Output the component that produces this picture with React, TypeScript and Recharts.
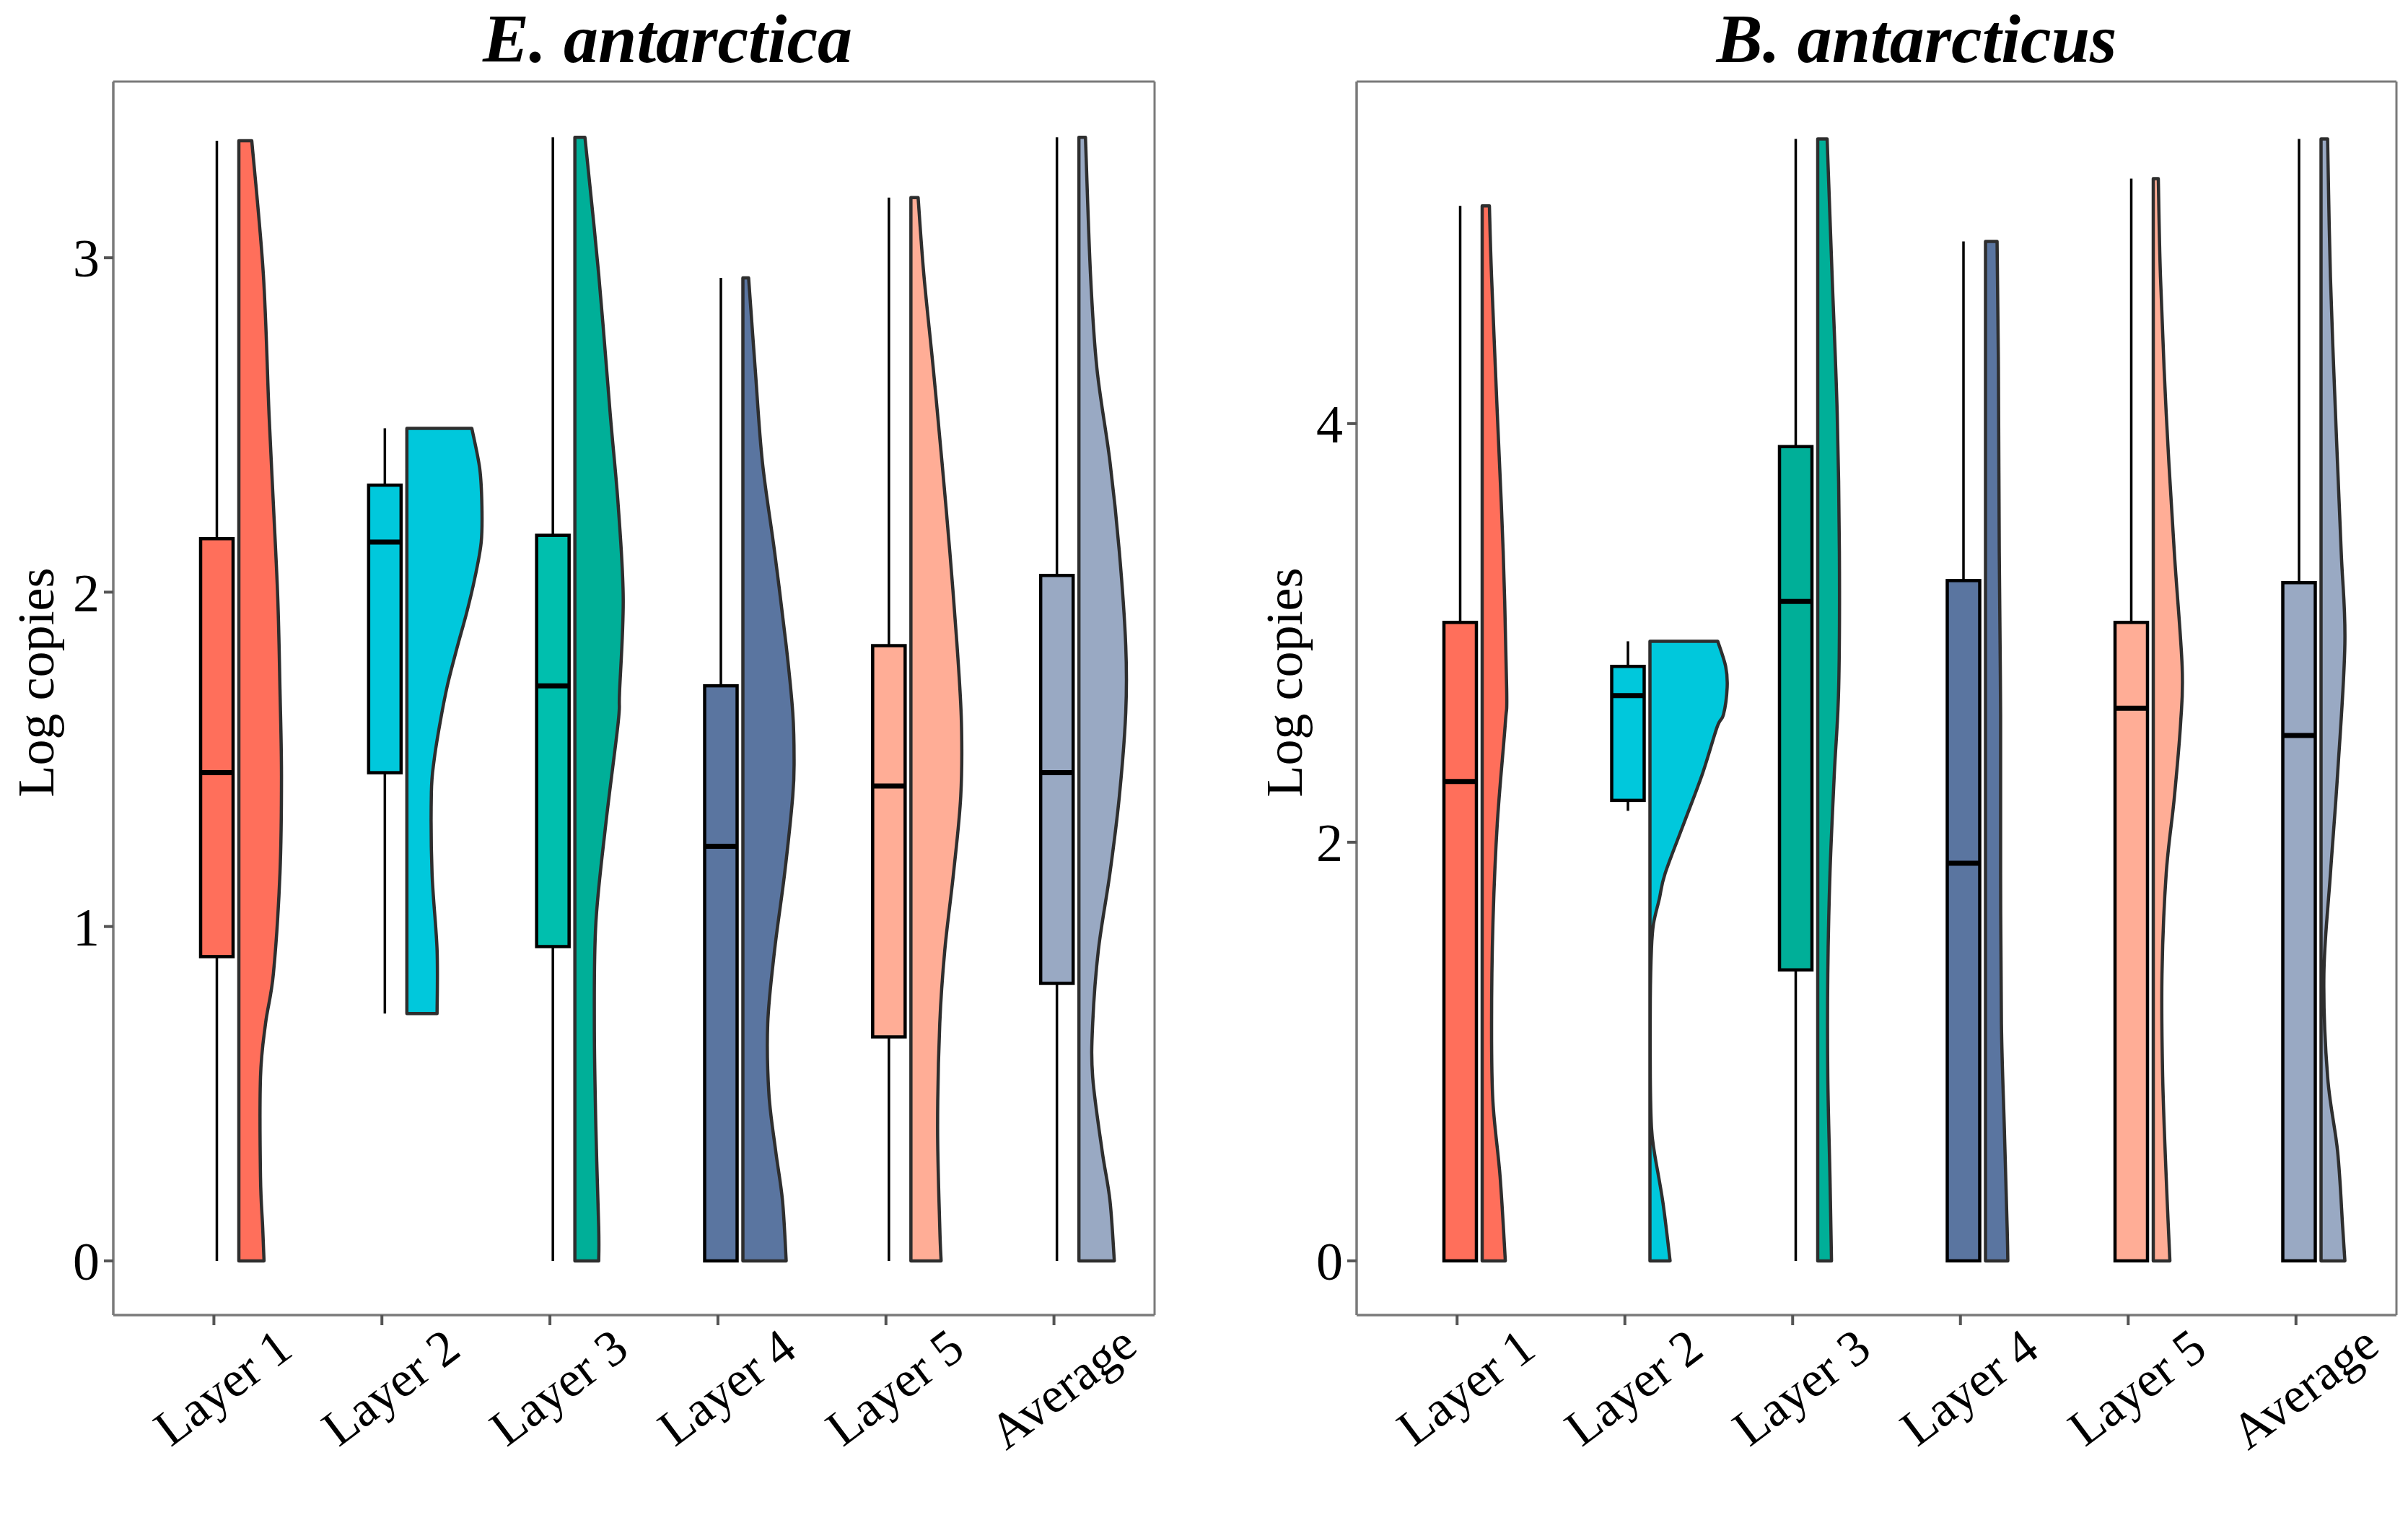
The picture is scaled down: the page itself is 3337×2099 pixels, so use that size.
import React from "react";
import { ComposedChart, Bar, XAxis, YAxis, CartesianGrid } from "recharts";

// --- Data ---
const categories = ["Layer 1", "Layer 2", "Layer 3", "Layer 4", "Layer 5", "Average"];

// box stats per layer: [lower whisker, q1, median, q3, upper whisker]
const eaBoxStats = [
  [0, 0.91, 1.46, 2.16, 3.35],
  [0.74, 1.46, 2.15, 2.32, 2.49],
  [0, 0.94, 1.72, 2.17, 3.36],
  [0, 0, 1.24, 1.72, 2.94],
  [0, 0.67, 1.42, 1.84, 3.18],
  [0, 0.83, 1.46, 2.05, 3.36],
];

const baBoxStats = [
  [0, 0, 2.29, 3.05, 5.04],
  [2.15, 2.2, 2.7, 2.84, 2.96],
  [0, 1.39, 3.15, 3.89, 5.36],
  [0, 0, 1.9, 3.25, 4.87],
  [0, 0, 2.64, 3.05, 5.17],
  [0, 0, 2.51, 3.24, 5.36],
];

// half-violin outlines: [log copies, half width in % of category spacing]
const eaViolins = [
  [[3.35, 7.7], [2.95, 14.6], [2.53, 18.0], [2.26, 20.6], [1.98, 23.2], [1.71, 24.5], [1.45, 25.4], [1.16, 24.5], [0.86, 20.6], [0.71, 15.9], [0.55, 12.9], [0.25, 12.9], [0.1, 14.2], [0, 15.0]],
  [[2.49, 38.7], [2.37, 43.4], [2.26, 44.7], [2.15, 44.3], [2.04, 40.4], [1.94, 35.7], [1.83, 29.7], [1.72, 24.1], [1.61, 19.8], [1.5, 16.3], [1.4, 14.6], [1.16, 15.0], [0.93, 18.0], [0.74, 18.0]],
  [[3.36, 6.0], [2.95, 14.2], [2.53, 21.1], [2.26, 25.8], [1.98, 28.8], [1.7, 26.6], [1.61, 25.8], [1.31, 18.5], [1.01, 12.5], [0.71, 11.6], [0.4, 12.5], [0.1, 14.2], [0, 14.2]],
  [[2.94, 3.4], [2.67, 7.3], [2.39, 11.6], [2.12, 18.9], [1.84, 25.8], [1.64, 29.7], [1.5, 30.5], [1.39, 29.7], [1.16, 24.9], [0.93, 18.9], [0.71, 14.8], [0.5, 15.5], [0.33, 19.5], [0.18, 23.6], [0, 25.8]],
  [[3.18, 4.3], [2.95, 7.7], [2.67, 13.3], [2.39, 18.5], [2.12, 23.2], [1.84, 27.5], [1.61, 30.1], [1.39, 29.7], [1.16, 25.4], [0.93, 20.2], [0.71, 17.2], [0.4, 15.9], [0.1, 17.2], [0, 18.0]],
  [[3.36, 3.9], [2.95, 6.9], [2.67, 10.7], [2.39, 18.5], [2.12, 24.1], [1.84, 27.9], [1.64, 27.9], [1.39, 24.1], [1.16, 18.5], [0.93, 11.6], [0.71, 8.2], [0.55, 8.2], [0.33, 13.8], [0.18, 18.5], [0, 21.1]],
];

const baViolins = [
  [[5.04, 4.3], [4.7, 5.6], [4.05, 9.0], [3.39, 12.5], [2.73, 14.6], [2.57, 13.8], [2.09, 9.0], [1.61, 6.4], [1.13, 5.6], [0.76, 6.4], [0.4, 10.7], [0, 13.8]],
  [[2.96, 40.4], [2.84, 45.1], [2.74, 46.0], [2.61, 43.8], [2.55, 40.0], [2.33, 31.4], [2.09, 20.2], [1.85, 9.0], [1.73, 5.6], [1.61, 2.1], [1.49, 0.9], [1.25, 0.2], [0.88, 0.2], [0.64, 0.9], [0.52, 2.6], [0.28, 7.7], [0, 12.0]],
  [[5.36, 5.6], [4.7, 8.6], [4.05, 11.6], [3.39, 12.9], [2.74, 12.5], [2.33, 9.9], [1.85, 7.3], [1.37, 6.0], [0.88, 6.0], [0.4, 7.3], [0, 8.2]],
  [[4.87, 6.9], [4.26, 7.7], [3.39, 8.2], [2.61, 9.0], [1.85, 9.0], [1.13, 9.5], [0.64, 11.2], [0.16, 12.9], [0, 13.3]],
  [[5.17, 3.0], [4.7, 4.3], [4.05, 7.7], [3.39, 12.5], [2.84, 17.2], [2.57, 16.3], [2.21, 12.5], [1.85, 7.7], [1.37, 5.2], [0.88, 5.6], [0.4, 7.7], [0, 9.9]],
  [[5.36, 3.9], [4.7, 5.6], [4.05, 8.6], [3.39, 12.0], [2.95, 14.2], [2.33, 9.9], [1.85, 5.6], [1.37, 1.7], [0.88, 3.9], [0.52, 9.9], [0.16, 12.9], [0, 14.2]],
];

const eaBoxFills = ["#FF6F5B", "#00C8DC", "#00BFAE", "#5A75A0", "#FFAD96", "#99A9C3"];
const eaViolinFills = ["#FF6F5B", "#00C8DC", "#00AF98", "#5A75A0", "#FFAD96", "#99A9C3"];
const baBoxFills = ["#FF6F5B", "#00C8DC", "#00AF98", "#5A75A0", "#FFAD96", "#99A9C3"];
const baViolinFills = ["#FF6F5B", "#00C8DC", "#00AF98", "#5A75A0", "#FFAD96", "#99A9C3"];

const eaTicks = [0, 1, 2, 3];
const baTicks = [0, 2, 4];

// --- Styling constants ---
const FONT = "'Liberation Serif', 'Times New Roman', serif";
const BAND = 232.6; // px per category
const BOX_SHIFT = 4.5;
const BOX_W = 45;
const VIOLIN_SHIFT = 35;

function RainCloud(props: any) {
  const { x, y, width, height, payload } = props;
  if (x == null || height == null) return null;
  const { lo, hi, stats, violin, boxFill, violinFill } = payload;
  const py = (v: number) => y + (height * (hi - v)) / (hi - lo);
  const cx = x + width / 2;
  const bx = cx + BOX_SHIFT;
  const [wLo, q1, med, q3, wHi] = stats;
  const base = cx + VIOLIN_SHIFT;

  const pts = violin.map(([v, w]: number[]) => [base + (w / 100) * BAND, py(v)]);
  let d = `M${base},${pts[0][1]} L${pts[0][0]},${pts[0][1]}`;
  for (let i = 0; i < pts.length - 1; i++) {
    const p0 = pts[i - 1] || pts[i];
    const p1 = pts[i];
    const p2 = pts[i + 1];
    const p3 = pts[i + 2] || p2;
    const c1x = p1[0] + (p2[0] - p0[0]) / 6;
    const c1y = p1[1] + (p2[1] - p0[1]) / 6;
    const c2x = p2[0] - (p3[0] - p1[0]) / 6;
    const c2y = p2[1] - (p3[1] - p1[1]) / 6;
    d += ` C${c1x},${c1y} ${c2x},${c2y} ${p2[0]},${p2[1]}`;
  }
  d += ` L${base},${pts[pts.length - 1][1]} Z`;

  return (
    <g>
      <line x1={bx} x2={bx} y1={py(wHi)} y2={py(q3)} stroke="#000" strokeWidth={3.5} />
      <line x1={bx} x2={bx} y1={py(q1)} y2={py(wLo)} stroke="#000" strokeWidth={3.5} />
      <rect
        x={bx - BOX_W / 2}
        y={py(q3)}
        width={BOX_W}
        height={Math.max(py(q1) - py(q3), 0)}
        fill={boxFill}
        stroke="#000"
        strokeWidth={4.5}
      />
      <line x1={bx - BOX_W / 2} x2={bx + BOX_W / 2} y1={py(med)} y2={py(med)} stroke="#000" strokeWidth={7} />
      <path d={d} fill={violinFill} stroke="#2e2e2e" strokeWidth={4.5} strokeLinejoin="round" />
    </g>
  );
}

function XLabel(props: any) {
  const { x, y, payload } = props;
  const px = x + 12;
  const pyy = y + 84;
  return (
    <text
      x={px}
      y={pyy}
      transform={`rotate(-37, ${px}, ${pyy})`}
      textAnchor="middle"
      dominantBaseline="central"
      fontFamily={FONT}
      fontSize={70}
      fill="#000"
    >
      {payload.value}
    </text>
  );
}

function YTitle(props: any) {
  const { viewBox } = props;
  const tx = viewBox.x + 50;
  const ty = viewBox.y + viewBox.height / 2 - 22;
  return (
    <text
      x={tx}
      y={ty}
      transform={`rotate(-90, ${tx}, ${ty})`}
      textAnchor="middle"
      dominantBaseline="central"
      fontFamily={FONT}
      fontSize={72}
      fill="#000"
    >
      Log copies
    </text>
  );
}

function Panel({
  title,
  titleX,
  left,
  width,
  marginRight,
  yAxisWidth,
  boxStats,
  violins,
  boxFills,
  violinFills,
  domain,
  ticks,
}: any) {
  const data = categories.map((name, i) => {
    const stats = boxStats[i];
    const violin = violins[i];
    return {
      name,
      stats,
      violin,
      boxFill: boxFills[i],
      violinFill: violinFills[i],
      lo: Math.min(stats[0], violin[violin.length - 1][0]),
      hi: Math.max(stats[4], violin[0][0]),
    };
  });
  const plotTop = 113;
  const plotBottom = 2099;
  const border = { stroke: "#7a7a7a", strokeWidth: 3 };
  // frame of the panel: grid lines placed on the plot-area edges
  const hEdges = (args: any) => {
    const o = args && args.offset;
    return o ? [o.top, o.top + o.height] : [plotTop, 1822];
  };
  const vEdges = (args: any) => {
    const o = args && args.offset;
    return o ? [o.left, o.left + o.width] : [yAxisWidth, width - marginRight];
  };
  return (
    <>
      <div
        style={{
          position: "absolute",
          left: titleX - 600,
          width: 1200,
          top: 6,
          textAlign: "center",
          fontFamily: FONT,
          fontWeight: "bold",
          fontStyle: "italic",
          fontSize: 96,
          lineHeight: "96px",
          color: "#000",
        }}
      >
        {title}
      </div>
      <div style={{ position: "absolute", left, top: 0 }}>
        <ComposedChart
          width={width}
          height={plotBottom}
          data={data}
          margin={{ top: plotTop, right: marginRight, bottom: 0, left: 0 }}
        >
          <CartesianGrid
            stroke="#7a7a7a"
            strokeWidth={3}
            horizontalCoordinatesGenerator={hEdges}
            verticalCoordinatesGenerator={vEdges}
          />
          <XAxis
            dataKey="name"
            height={277}
            padding={{ left: 23, right: 23 }}
            axisLine={border}
            tickLine={{ stroke: "#555", strokeWidth: 4 }}
            tickSize={14}
            tick={<XLabel />}
            interval={0}
          />
          <YAxis
            type="number"
            width={yAxisWidth}
            domain={domain}
            allowDataOverflow
            ticks={ticks}
            axisLine={border}
            tickLine={{ stroke: "#555", strokeWidth: 4 }}
            tickSize={13}
            tickMargin={6}
            tick={{ fill: "#000", fontSize: 74, fontFamily: FONT }}
            label={<YTitle />}
          />
          <Bar
            dataKey={(d: any) => [d.lo, d.hi]}
            barSize={2}
            isAnimationActive={false}
            shape={(p: any) => <RainCloud {...p} />}
          />
        </ComposedChart>
      </div>
    </>
  );
}

export default function App() {
  return (
    <div
      style={{
        position: "absolute",
        left: 0,
        top: 0,
        width: 3337,
        height: 2099,
        background: "#fff",
        overflow: "hidden",
      }}
    >
      <Panel
        title="E. antarctica"
        titleX={925}
        left={0}
        width={1668}
        marginRight={68}
        yAxisWidth={157}
        boxStats={eaBoxStats}
        violins={eaViolins}
        boxFills={eaBoxFills}
        violinFills={eaViolinFills}
        domain={[-0.162, 3.527]}
        ticks={eaTicks}
      />
      <Panel
        title="B. antarcticus"
        titleX={2656}
        left={1730}
        width={1607}
        marginRight={16}
        yAxisWidth={150}
        boxStats={baBoxStats}
        violins={baViolins}
        boxFills={baBoxFills}
        violinFills={baViolinFills}
        domain={[-0.259, 5.634]}
        ticks={baTicks}
      />
    </div>
  );
}
